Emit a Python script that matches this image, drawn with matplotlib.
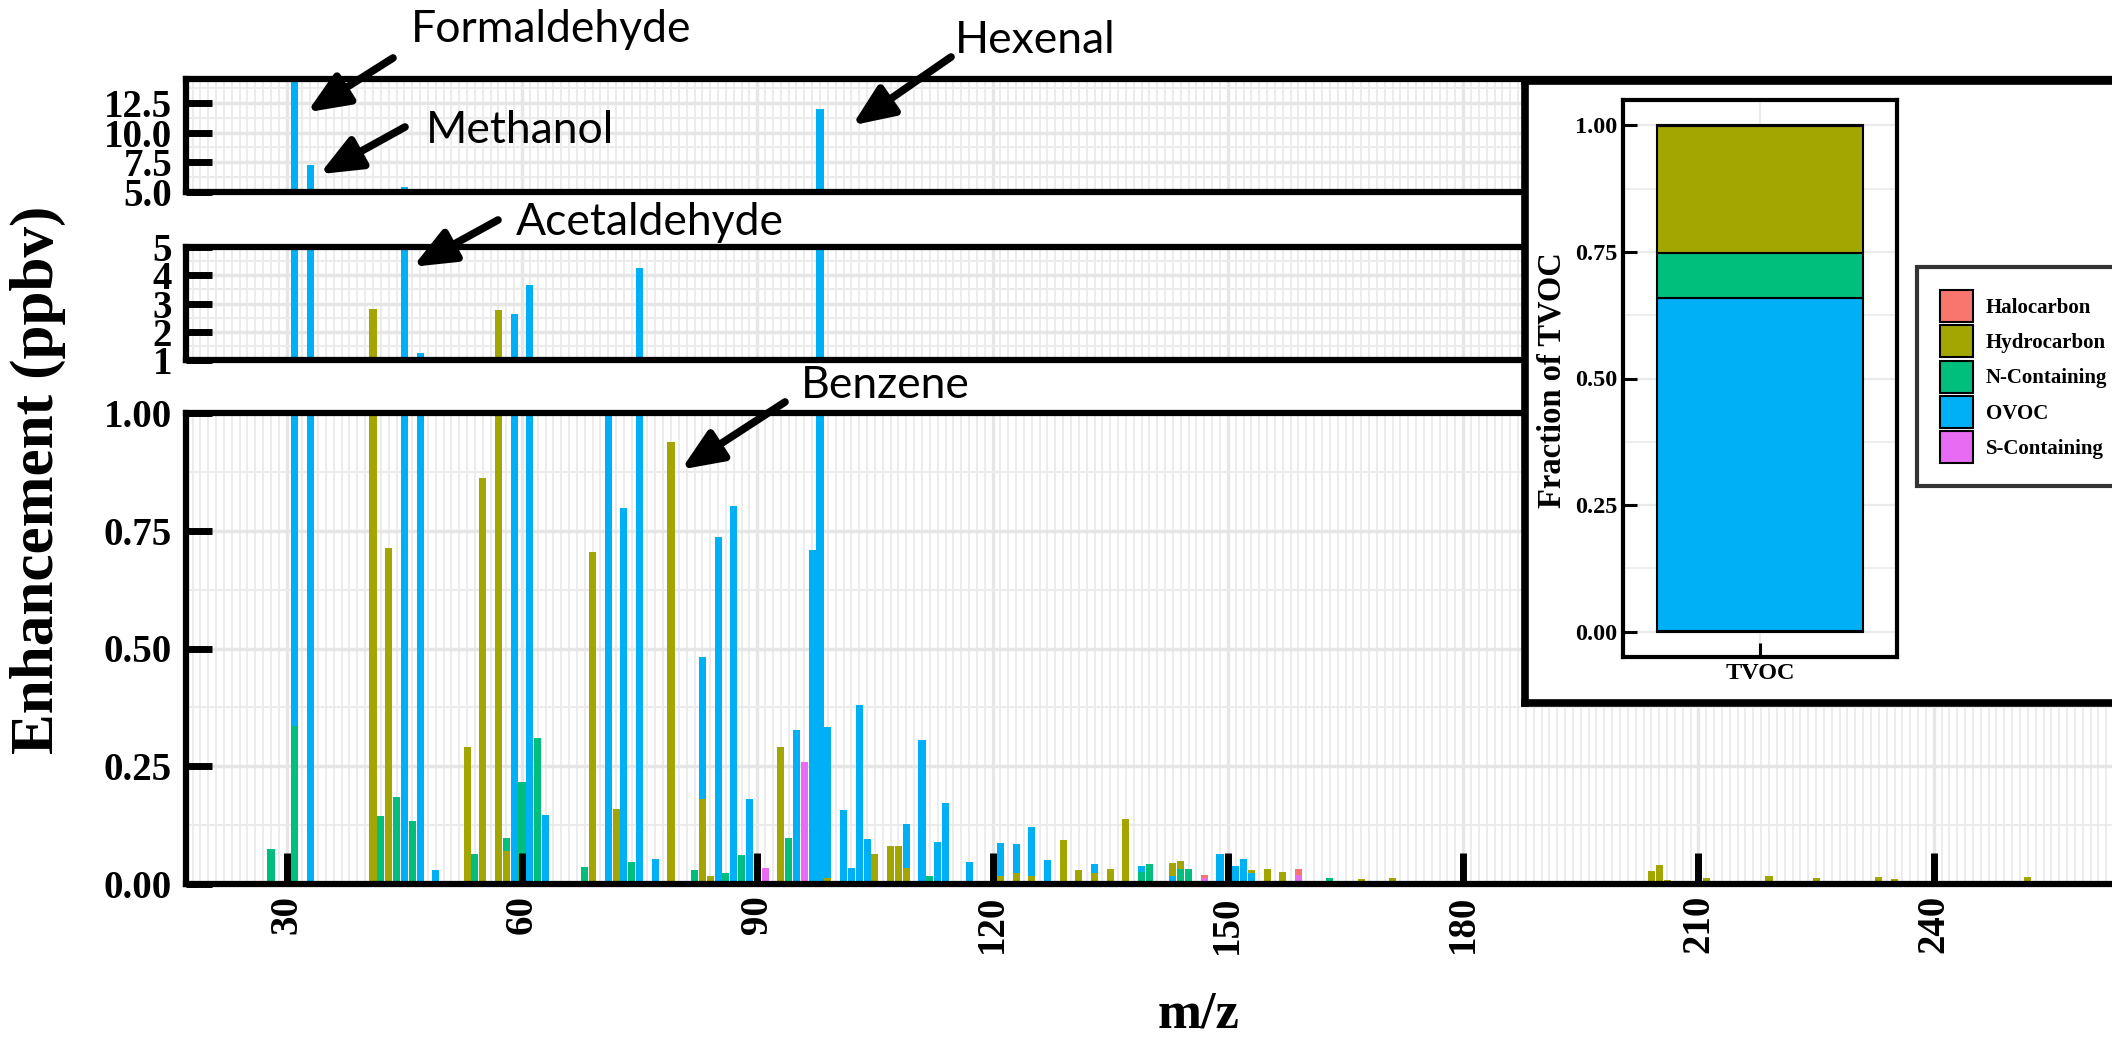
import numpy as np
import matplotlib.pyplot as plt
from matplotlib.patches import Patch

W, H = 2112, 1037
SERIF = "Liberation Serif"

# categories and ggplot default hues
groups = ["Halocarbon", "Hydrocarbon", "N-Containing", "OVOC", "S-Containing"]
colors = ["#F8766D", "#A3A500", "#00BF7D", "#00B0F6", "#E76BF3"]

# enhancement (ppbv) per m/z
ovoc_mz = [31, 33, 45, 47, 49, 59, 61, 63, 71, 73, 75, 77, 83, 85, 87, 89, 95, 97, 98, 99,
           101, 102, 103, 104, 109, 111, 113, 114, 117, 121, 123, 125, 127, 133, 139, 143,
           149, 151, 152, 153]
ovoc_val = [15.2, 7.27, 5.42, 1.24, 0.030, 2.63, 3.66, 0.147, 1.0, 0.799, 4.26, 0.054, 0.481,
            0.737, 0.802, 0.180, 0.326, 0.710, 12.0, 0.333,
            0.158, 0.035, 0.381, 0.096, 0.127, 0.306, 0.090, 0.171, 0.046, 0.086, 0.084, 0.121,
            0.051, 0.042, 0.038, 0.017, 0.063, 0.038, 0.054, 0.024]

hydro_mz = [41, 43, 53, 55, 57, 58, 69, 72, 79, 83, 84, 93, 99, 105, 107, 108, 109, 121, 123,
            125, 129, 131, 133, 135, 137, 143, 144, 153, 155, 157, 167, 171, 204, 205, 206,
            211, 219, 225, 231, 233, 235, 252]
hydro_val = [2.81, 0.713, 0.290, 0.862, 2.76, 0.071, 0.705, 0.160, 0.938, 0.181, 0.017, 0.290,
             0.012, 0.064, 0.080, 0.080, 0.033, 0.017, 0.024, 0.017, 0.093, 0.029, 0.024, 0.032,
             0.139, 0.045, 0.048, 0.029, 0.031, 0.025, 0.011, 0.013, 0.027, 0.040, 0.009,
             0.013, 0.016, 0.013, 0.007, 0.014, 0.011, 0.015]

nitro_mz = [28, 31, 42, 44, 46, 54, 58, 60, 62, 68, 74, 82, 86, 88, 94, 110, 112, 139, 140,
            144, 145, 163]
nitro_val = [0.075, 0.336, 0.145, 0.185, 0.133, 0.063, 0.098, 0.216, 0.310, 0.037, 0.047, 0.030,
             0.024, 0.061, 0.098, 0.005, 0.017, 0.025, 0.043, 0.032, 0.032, 0.012]

sulfur_mz = [91, 96, 147, 159]
sulfur_val = [0.033, 0.260, 0.012, 0.020]

halo_mz = [147, 159]
halo_val = [0.019, 0.031]

# fraction of TVOC (inset), same order as groups
tvoc_frac = [0.001, 0.252, 0.088, 0.657, 0.002]

xticks = [30, 60, 90, 120, 150, 180, 210, 240]

# broken y axis: (top px, bottom px, ymin, ymax, ticks, labels, minor step)
panels = [
    (79, 192, 5, 14.5, [5, 7.5, 10, 12.5], ["5.0", "7.5", "10.0", "12.5"], 1.25),
    (247, 360, 1, 5, [1, 2, 3, 4, 5], ["1", "2", "3", "4", "5"], 0.5),
    (413, 884, 0, 1, [0, 0.25, 0.5, 0.75, 1], ["0.00", "0.25", "0.50", "0.75", "1.00"], 0.125),
]

labels = ["Formaldehyde", "Methanol", "Acetaldehyde", "Hexenal", "Benzene"]
# arrow tip (data coords, panel index) and tail / text position (image px)
arrow_tip = [(32.6, 11.7, 0), (34.2, 6.5, 0), (46.1, 4.3, 1), (102.1, 10.6, 0), (80.3, 0.88, 2)]
arrow_tail = [(393, 58), (405, 127), (498, 220), (951, 57), (785, 402)]
text_pos = [(551, 42), (520, 143), (650, 235), (1035, 53), (885, 398)]


def fx(px):
    return px / W


def fy(py):
    return 1 - py / H


# one flat list of bars, tallest drawn first so small ones stay visible
mz_all, val_all, col_all = [], [], []
for mzs, vals, c in [(halo_mz, halo_val, colors[0]), (hydro_mz, hydro_val, colors[1]),
                     (nitro_mz, nitro_val, colors[2]), (ovoc_mz, ovoc_val, colors[3]),
                     (sulfur_mz, sulfur_val, colors[4])]:
    mz_all += mzs
    val_all += vals
    col_all += [c] * len(mzs)
order = np.argsort(-np.array(val_all), kind="stable")
mz_all = np.array(mz_all)[order]
val_all = np.array(val_all)[order]
col_all = [col_all[i] for i in order]

fig = plt.figure(figsize=(W / 100, H / 100), dpi=100)

left = 186
xmin = 30 - (286.7 - left) / 7.843
xmax = 30 + (W - 286.7) / 7.843

axes = []
for top, bot, y0, y1, yt, ylab, minor in panels:
    ax = fig.add_axes([fx(left), fy(bot), (W - left) / W, (bot - top) / H])
    ax.set_xlim(xmin, xmax)
    ax.set_ylim(y0, y1)
    # grid
    ax.vlines(np.arange(18, 263), 0, 1, transform=ax.get_xaxis_transform(),
              color="#EBEBEB", lw=1.3, zorder=0)
    ax.vlines(xticks, 0, 1, transform=ax.get_xaxis_transform(), color="#E6E6E6", lw=2.4, zorder=0)
    ax.hlines(np.arange(y0, y1 + 1e-9, minor), 0, 1, transform=ax.get_yaxis_transform(),
              color="#EBEBEB", lw=1.5, zorder=0)
    ax.hlines(yt, 0, 1, transform=ax.get_yaxis_transform(), color="#E6E6E6", lw=2.4, zorder=0)

    ax.bar(mz_all, val_all, width=0.9, color=col_all, linewidth=0, zorder=1)

    for name in ["top", "bottom", "left"]:
        ax.spines[name].set_linewidth(4.5)
        ax.spines[name].set_color("black")
    ax.spines["right"].set_visible(False)

    ax.set_yticks(yt)
    ax.set_yticklabels(ylab, fontfamily=SERIF, fontweight="bold", fontsize=28)
    ax.tick_params(axis="y", direction="in", length=19, width=5, pad=10, right=False)
    ax.tick_params(axis="x", bottom=False, labelbottom=False, top=False)
    axes.append(ax)

ax = axes[2]
ax.set_xticks(xticks)
ax.set_xticklabels([str(t) for t in xticks], fontfamily=SERIF, fontweight="bold",
                   fontsize=28, rotation=90)
ax.tick_params(axis="x", bottom=True, labelbottom=True, direction="in", length=22, width=5, pad=8)

fig.text(fx(38), fy(480), "Enhancement (ppbv)", rotation=90, ha="center", va="center",
         fontfamily=SERIF, fontweight="bold", fontsize=44)
fig.text(fx(1199), fy(1015), "m/z", ha="center", va="center",
         fontfamily=SERIF, fontweight="bold", fontsize=38)

# compound labels with arrows
for lab, (tx, ty, p), (ax_, ay_), (lx, ly) in zip(labels, arrow_tip, arrow_tail, text_pos):
    axes[p].annotate("", xy=(tx, ty), xycoords="data",
                     xytext=(fx(ax_), fy(ay_)), textcoords="figure fraction",
                     annotation_clip=False,
                     arrowprops=dict(arrowstyle="-|>,head_length=2.5,head_width=1.05",
                                     mutation_scale=10, lw=5.5, color="black",
                                     shrinkA=0, shrinkB=0))
    fig.text(fx(lx), fy(ly), lab, ha="center", va="baseline", fontfamily="Lato", fontsize=32)

# inset: stacked fraction of TVOC
ax_box = fig.add_axes([fx(1525), fy(703), (2150 - 1525) / W, (703 - 81) / H], zorder=5)
ax_box.set_facecolor("white")
ax_box.set_xticks([])
ax_box.set_yticks([])
for s in ax_box.spines.values():
    s.set_linewidth(5.5)

ax_in = fig.add_axes([fx(1623), fy(657), (1897 - 1623) / W, (657 - 100) / H], zorder=6)
ax_in.set_xlim(0.4, 1.6)
ax_in.set_ylim(-0.05, 1.05)
for yv in np.arange(0, 1.01, 0.125):
    ax_in.axhline(yv, color="#EBEBEB", lw=1.2 if yv % 0.25 else 1.6, zorder=0)
ax_in.axvline(1, color="#EBEBEB", lw=1.6, zorder=0)
stack_order = [4, 3, 2, 1, 0]
bottom = 0
for i in stack_order:
    ax_in.bar(1, tvoc_frac[i], width=0.9, bottom=bottom, color=colors[i],
              edgecolor="black", linewidth=1.5, zorder=2)
    bottom += tvoc_frac[i]
for s in ax_in.spines.values():
    s.set_linewidth(3)
ax_in.set_yticks([0, 0.25, 0.5, 0.75, 1])
ax_in.set_yticklabels(["0.00", "0.25", "0.50", "0.75", "1.00"], fontfamily=SERIF,
                      fontweight="bold", fontsize=17.5)
ax_in.set_xticks([1])
ax_in.set_xticklabels(["TVOC"], fontfamily=SERIF, fontweight="bold", fontsize=17.5)
ax_in.tick_params(direction="in", length=10, width=2.2, pad=4)
fig.text(fx(1552), fy(380), "Fraction of TVOC", rotation=90, ha="center", va="center",
         fontfamily=SERIF, fontweight="bold", fontsize=23.5, zorder=7)

handles = [Patch(facecolor=c, edgecolor="black", linewidth=1.5) for c in colors]
leg = ax_in.legend(handles, groups, loc="upper left", bbox_to_anchor=(fx(1917), fy(267)),
                   bbox_transform=fig.transFigure, frameon=True, fancybox=False,
                   prop={"family": SERIF, "weight": "bold", "size": 15},
                   borderpad=1.1, handlelength=1.6, handleheight=2.0, labelspacing=0.15,
                   handletextpad=0.6, borderaxespad=0)
leg.get_frame().set_edgecolor("black")
leg.get_frame().set_linewidth(3)

fig.savefig("out.png", dpi=100)
